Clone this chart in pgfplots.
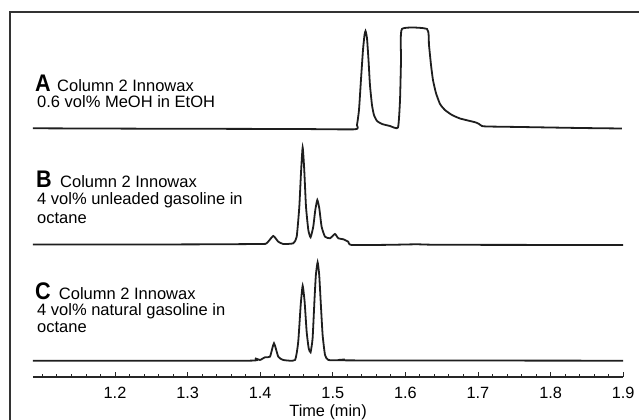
\documentclass[border=0pt]{standalone}
\usepackage{fontspec}
\setmainfont{Liberation Sans}
\usepackage{pgfplots}
\pgfplotsset{compat=1.18}
\definecolor{trace}{HTML}{1E1E1E}
\newcommand{\panel}[1]{\scalebox{0.9}[1]{\fontsize{24bp}{24bp}\selectfont\bfseries #1}}
\newcommand{\txt}{\fontsize{16.5bp}{19bp}\selectfont}
\tikzset{lbl/.style={anchor=base west, inner sep=0pt, font=\txt}}

\begin{document}
\begin{tikzpicture}
\begin{axis}[
  x=726bp, y=1bp,
  xmin=1.087, xmax=1.9, ymin=43, ymax=408,
  axis x line=bottom, axis y line=none,
  axis line style={-, black!85, line width=1.1bp},
  xtick={1.2,1.3,1.4,1.5,1.6,1.7,1.8,1.9},
  minor xtick={1.1,1.12,...,1.9},
  tick align=inside,
  major tick length=4.5bp, minor tick length=3bp,
  tick style={black!85, line width=0.9bp},
  xticklabel style={font=\fontsize{16.3bp}{18bp}\selectfont, anchor=base, yshift=-21.5bp},
  /pgf/number format/assume math mode=true,
  /pgf/number format/fixed, /pgf/number format/precision=1,
  xlabel={Time (min)},
  xlabel style={at={(axis description cs:0.5,0)}, anchor=base, yshift=-40bp, font=\fontsize{16.3bp}{18bp}\selectfont},
  ytick=\empty,
  clip=false,
]
% trace A
\addplot[trace, line width=1.8bp, smooth, tension=0.3] coordinates {
(1.087,291.7) (1.25,291.3) (1.45,291) (1.5306,290.7) (1.5333,295)
(1.5361,310) (1.5388,340) (1.5416,370) (1.5437,385) (1.5451,389)
(1.5471,382) (1.5492,360) (1.5512,335) (1.554,315) (1.5567,305)
(1.5609,299) (1.5678,296) (1.5788,294) (1.5898,292.5) (1.5926,320)
(1.594,360) (1.5953,391) (1.6298,391) (1.6325,375) (1.6353,355)
(1.638,340) (1.6421,327) (1.6477,316) (1.6545,310) (1.6642,305)
(1.6752,301.5) (1.689,299) (1.6972,297.5) (1.7014,296) (1.7055,294)
(1.7124,293.5) (1.7579,293) (1.8405,292) (1.8983,291.5)
};
% trace B
\addplot[trace, line width=1.8bp, smooth, tension=0.3] coordinates {
(1.087,175.5) (1.3,175.6) (1.3997,176) (1.4089,176.7) (1.418,184)
(1.4249,178.3) (1.4318,176) (1.4456,176.7) (1.4503,183.3) (1.4539,213.3)
(1.4562,247) (1.4585,272.7) (1.4607,250) (1.4631,213.3) (1.4663,190)
(1.4694,182.7) (1.4731,193.3) (1.4759,210) (1.4787,220) (1.4814,211.7)
(1.4846,193.3) (1.4893,183.3) (1.4961,181.7) (1.503,186) (1.5076,181.7)
(1.5145,180.7) (1.5213,178.3) (1.526,175) (1.58,175.2) (1.6156,175.7)
(1.65,175.2) (1.9,175)
};
% trace C
\addplot[trace, line width=1.8bp, smooth, tension=0.3] coordinates {
(1.087,59.3) (1.3836,59.3) (1.3928,61.7) (1.3997,60) (1.4066,62.7)
(1.4135,63.3) (1.419,76.7) (1.4249,63.3) (1.4318,60) (1.4479,60)
(1.4524,78.3) (1.4558,115) (1.4585,134.3) (1.4612,118.3) (1.464,88.3)
(1.4668,71.7) (1.4694,67.7) (1.4722,81.7) (1.4749,121.7) (1.4767,145)
(1.4791,157.7) (1.4813,145) (1.4836,115) (1.486,85) (1.4893,65)
(1.4938,60) (1.5099,59.8) (1.5168,60.5) (1.5237,59.6) (1.9,59.3)
};
% panel labels
\node[lbl] at (axis cs:1.0898,328) {\panel{A}};
\node[lbl] at (axis cs:1.1201,328) {Column 2 Innowax};
\node[lbl] at (axis cs:1.0926,312) {0.6 vol\% MeOH in EtOH};
\node[lbl] at (axis cs:1.0912,232) {\panel{B}};
\node[lbl] at (axis cs:1.1242,232) {Column 2 Innowax};
\node[lbl] at (axis cs:1.0926,215.7) {4 vol\% unleaded gasoline in};
\node[lbl] at (axis cs:1.0926,196.7) {octane};
\node[lbl] at (axis cs:1.0898,120) {\panel{C}};
\node[lbl] at (axis cs:1.1225,120) {Column 2 Innowax};
\node[lbl] at (axis cs:1.0926,104) {4 vol\% natural gasoline in};
\node[lbl] at (axis cs:1.0926,87) {octane};
% figure frame (top and left edges)
\draw[black!80, line width=1.2bp] (axis cs:1.0554,0) -- (axis cs:1.0554,408) -- (axis cs:1.9218,408);
\coordinate (bbl) at (axis cs:1.0416,0);
\coordinate (btr) at (axis cs:1.9218,420);
\end{axis}
\pgfresetboundingbox
\path (bbl) rectangle (btr);
\end{tikzpicture}
\end{document}
